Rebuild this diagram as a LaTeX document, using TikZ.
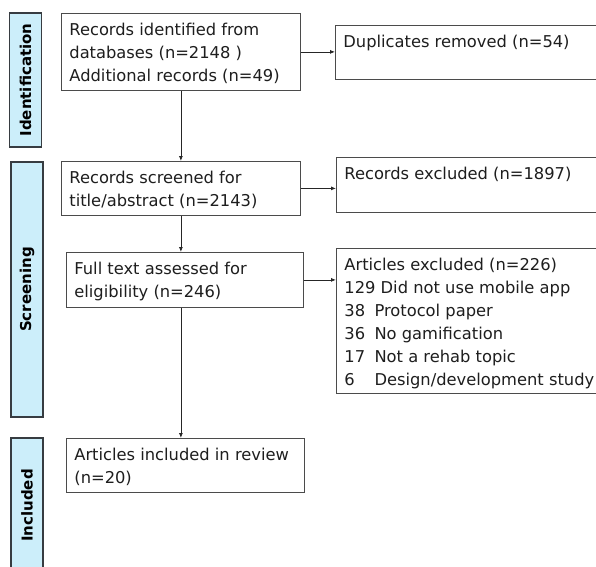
\documentclass[tikz,border=0pt]{standalone}
\usepackage{fontspec}
\setmainfont{DejaVu Sans}
\usetikzlibrary{arrows.meta}

\definecolor{barfill}{RGB}{204,238,250}
\definecolor{bardraw}{RGB}{55,60,65}
\definecolor{boxdraw}{RGB}{75,75,75}
\definecolor{txt}{RGB}{30,30,30}

\newcommand{\boxtext}[3]{\parbox[t][#2][t]{#1}{\rule{0pt}{22pt}#3}}
\newcommand{\cnt}[1]{\makebox[1.85em][l]{#1}}

\begin{document}
\begin{tikzpicture}[x=1pt,y=-1pt,
  stage/.style={draw=bardraw,fill=barfill,line width=1.6pt,rotate=90,minimum height=32pt,inner sep=0pt,font=\fontsize{15}{18}\selectfont\bfseries},
  rec/.style={draw=boxdraw,line width=0.8pt,anchor=north west,inner xsep=8pt,inner ysep=0pt,text=txt,font=\fontsize{16.3}{23}\selectfont},
  arr/.style={-{Latex[length=5pt,width=4pt]},line width=0.8pt,draw=black!85}]

\clip (0,0) rectangle (596,566);
\fill[white] (0,0) rectangle (596,566);

% stage bars
\node[stage,minimum width=134pt] (idbar) at (25.5,80) {Identification};
\node[stage,minimum width=255pt] (scbar) at (27,289.5) {Screening};
\node[stage,minimum width=135pt] (inbar) at (27,505.5) {Included};

% main column
\node[rec] (ident) at (61,13) {\boxtext{223pt}{77pt}{Records identified from\\databases (n=2148 )\\Additional records (n=49)}};
\node[rec] (screen) at (61,161) {\boxtext{223pt}{54pt}{Records screened for\\title/abstract (n=2143)}};
\node[rec] (full) at (66,252) {\boxtext{221pt}{55pt}{Full text assessed for\\eligibility (n=246)}};
\node[rec] (incl) at (66,438) {\boxtext{222pt}{54pt}{Articles included in review\\(n=20)}};

% exclusions
\node[rec] (dup) at (335,25) {\boxtext{249pt}{54pt}{Duplicates removed (n=54)}};
\node[rec] (recex) at (336,157) {\boxtext{248pt}{55pt}{Records excluded (n=1897)}};
\node[rec] (artex) at (336,248) {\boxtext{262pt}{145pt}{Articles excluded (n=226)\\
129 Did not use mobile app\\
\cnt{38}Protocol paper\\
\cnt{36}No gamification\\
\cnt{17}Not a rehab topic\\
\cnt{6}Design/development study}};

\draw[arr] (ident.east) -- (ident.east -| dup.west);
\draw[arr] (screen.east) -- (screen.east -| recex.west);
\draw[arr] (full.east) -- (full.east -| artex.west);

\draw[arr] (ident.south) -- (screen.north);
\draw[arr] (screen.south) -- (screen.south |- full.north);
\draw[arr] (screen.south |- full.south) -- (screen.south |- incl.north);

\end{tikzpicture}
\end{document}
